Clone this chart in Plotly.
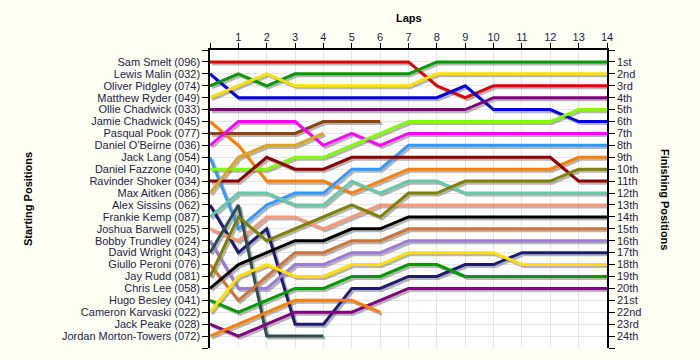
import plotly.graph_objects as go

laps = list(range(0, 15))
lap_labels = [""] + [str(i) for i in range(1, 15)]

drivers = [
    "Sam Smelt (096)", "Lewis Malin (032)", "Oliver Pidgley (074)", "Matthew Ryder (049)",
    "Ollie Chadwick (033)", "Jamie Chadwick (045)", "Pasqual Pook (077)", "Daniel O'Beirne (036)",
    "Jack Lang (054)", "Daniel Fazzone (040)", "Ravinder Shoker (034)", "Max Aitken (086)",
    "Alex Sissins (062)", "Frankie Kemp (087)", "Joshua Barwell (025)", "Bobby Trundley (024)",
    "David Wright (043)", "Giullo Peroni (076)", "Jay Rudd (081)", "Chris Lee (058)",
    "Hugo Besley (041)", "Cameron Karvaski (022)", "Jack Peake (028)", "Jordan Morton-Towers (072)",
]

finish_labels = [
    "1st", "2nd", "3rd", "4th", "5th", "6th", "7th", "8th", "9th", "10th", "11th", "12th",
    "13th", "14th", "15th", "16th", "17th", "18th", "19th", "20th", "21st", "22nd", "23rd", "24th",
]

sam_smelt        = [1, 1, 1, 1, 1, 1, 1, 1, 3, 4, 3, 3, 3, 3, 3]
lewis_malin      = [2, 4, 4, 4, 4, 4, 4, 4, 4, 3, 5, 5, 5, 6, 6]
oliver_pidgley   = [3, 2, 3, 2, 2, 2, 2, 2, 1, 1, 1, 1, 1, 1, 1]
matthew_ryder    = [4, 3, 2, 3, 3, 3, 3, 3, 2, 2, 2, 2, 2, 2, 2]
ollie_chadwick   = [5, 5, 5, 5, 5, 5, 5, 5, 5, 5, 4, 4, 4, 4, 4]
jamie_chadwick   = [6, 8, 11, 11, 11, 12, 11, 10, 10, 10, 10, 10, 10, 9, 9]
pasqual_pook     = [7, 7, 7, 7, 6, 6, 6]
daniel_obeirne   = [8, 6, 6, 6, 8, 7, 8, 7, 7, 7, 7, 7, 7, 7, 7]
jack_lang        = [9, 15, 13, 12, 12, 10, 10, 8, 8, 8, 8, 8, 8, 8, 8]
daniel_fazzone   = [10, 10, 10, 9, 9, 8, 7, 6, 6, 6, 6, 6, 6, 5, 5]
ravinder_shoker  = [11, 11, 9, 10, 10, 9, 9, 9, 9, 9, 9, 9, 9, 11, 11]
max_aitken       = [12, 9, 8, 8, 7]
alex_sissins     = [13, 17, 15, 23, 23, 20, 20, 19, 19, 18, 18, 17, 17, 17, 17]
frankie_kemp     = [14, 12, 12, 13, 13, 11, 12, 11, 11, 12, 12, 12, 12, 12, 12]
joshua_barwell   = [15, 16, 14, 14, 15, 14, 13, 13, 13, 13, 13, 13, 13, 13, 13]
bobby_trundley   = [16, 20, 20, 18, 18, 17, 17, 16, 16, 16, 16, 16, 16, 16, 16]
david_wright     = [17, 13, 24, 24, 24]
giullo_peroni    = [18, 21, 19, 17, 17, 16, 16, 15, 15, 15, 15, 15, 15, 15, 15]
jay_rudd         = [19, 14, 16, 15, 14, 13, 14, 12, 12, 11, 11, 11, 11, 10, 10]
chris_lee        = [20, 18, 17, 16, 16, 15, 15, 14, 14, 14, 14, 14, 14, 14, 14]
hugo_besley      = [21, 22, 21, 20, 20, 19, 19, 18, 18, 19, 19, 19, 19, 19, 19]
cameron_karvaski = [22, 19, 18, 19, 19, 18, 18, 17, 17, 17, 17, 18, 18, 18, 18]
jack_peake       = [23, 24, 23, 22, 22, 22, 21, 20, 20, 20, 20, 20, 20, 20, 20]
jordan_mt        = [24, 23, 22, 21, 21, 21, 22]

series = [
    sam_smelt, lewis_malin, oliver_pidgley, matthew_ryder, ollie_chadwick, jamie_chadwick,
    pasqual_pook, daniel_obeirne, jack_lang, daniel_fazzone, ravinder_shoker, max_aitken,
    alex_sissins, frankie_kemp, joshua_barwell, bobby_trundley, david_wright, giullo_peroni,
    jay_rudd, chris_lee, hugo_besley, cameron_karvaski, jack_peake, jordan_mt,
]

colors = [
    "#e00000", "#0000dd", "#009a00", "#ffe000", "#800080", "#ff8000",
    "#8b4513", "#ff00ff", "#3399ff", "#80ff00", "#8b0000", "#daa520",
    "#1c1c70", "#66c8a8", "#f89878", "#9b7ad8", "#2f4f4f", "#cd743a",
    "#808000", "#000000", "#009a00", "#ffe000", "#800080", "#ff8000",
]

fig = go.Figure()

# shadows
for s in series:
    fig.add_trace(go.Scatter(
        x=[v + 0.07 for v in laps[:len(s)]], y=[v + 0.17 for v in s],
        mode="lines", line=dict(color="rgba(90,90,90,0.45)", width=3),
        hoverinfo="skip", showlegend=False,
    ))

for name, s, c in zip(drivers, series, colors):
    fig.add_trace(go.Scatter(
        x=laps[:len(s)], y=s, mode="lines", name=name,
        line=dict(color=c, width=3), showlegend=False,
    ))

# invisible trace for right axis
fig.add_trace(go.Scatter(x=[0], y=[1], yaxis="y2", mode="markers",
                         marker=dict(opacity=0), hoverinfo="skip", showlegend=False))

tick_font = dict(family="Liberation Sans, Arial, sans-serif", size=11, color="#1c1c48")
title_font = dict(family="Liberation Sans, Arial, sans-serif", size=11, color="black")
pos_vals = list(range(0, 26))

fig.update_layout(
    width=700, height=360,
    margin=dict(l=210, r=93, t=50, b=12),
    paper_bgcolor="#fffff4",
    plot_bgcolor="#ffffff",
    xaxis=dict(
        side="top", range=[0, 14], tickvals=laps, ticktext=lap_labels,
        ticks="outside", ticklen=5, tickcolor="black", tickfont=tick_font,
        ticklabelstandoff=-2,
        showline=True, linecolor="black", linewidth=1.5,
        showgrid=True, gridcolor="#e6e6e6", gridwidth=1, zeroline=False,
    ),
    yaxis=dict(
        range=[25, 0], tickvals=pos_vals, ticktext=[""] + drivers + [""],
        ticks="outside", ticklen=6, tickcolor="black", tickfont=tick_font,
        showline=True, linecolor="black", linewidth=1.5,
        showgrid=True, gridcolor="#e6e6e6", gridwidth=1, zeroline=False,
    ),
    yaxis2=dict(
        overlaying="y", side="right", range=[25, 0], tickvals=pos_vals,
        ticktext=[""] + finish_labels + [""],
        ticks="outside", ticklen=6, tickcolor="black", tickfont=tick_font,
        showline=True, linecolor="black", linewidth=1.5,
        showgrid=False, zeroline=False,
    ),
    annotations=[
        dict(text="<b>Laps</b>", xref="paper", yref="paper", x=0.5, y=1.0, yshift=32,
             xanchor="center", yanchor="middle", showarrow=False, font=title_font),
        dict(text="<b>Starting Positions</b>", xref="paper", yref="paper", x=0, xshift=-182, y=0.5,
             xanchor="center", yanchor="middle", textangle=-90, showarrow=False, font=title_font),
        dict(text="<b>Finishing Positions</b>", xref="paper", yref="paper", x=1, xshift=58, y=0.5,
             xanchor="center", yanchor="middle", textangle=90, showarrow=False, font=title_font),
    ],
)

fig.write_html("out.html", config={"displayModeBar": False},
               post_script="document.body.style.margin='0';")
